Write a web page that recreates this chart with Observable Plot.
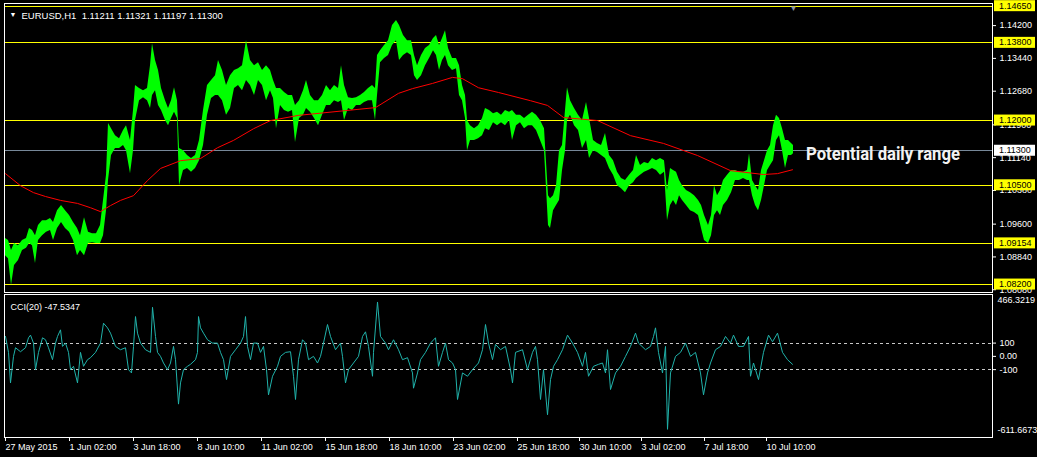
<!DOCTYPE html>
<html><head><meta charset="utf-8">
<script src="https://cdn.jsdelivr.net/npm/d3@7"></script>
<script src="https://cdn.jsdelivr.net/npm/@observablehq/plot@0.6"></script>
<style>
html,body{margin:0;padding:0;background:#000;}
#chart{position:relative;width:1037px;height:457px;background:#000;overflow:hidden;}
#chart svg{position:absolute;left:0;}
</style></head><body><div id="chart"></div>
<script>
// ---- texts ----
const symbolHeader = "EURUSD,H1  1.11211 1.11321 1.11197 1.11300";
const cciHeader = "CCI(20) -47.5347";
const annotationText = "Potential daily range";
const annotationAt = [801, 1.1123]; // bar index, price
// ---- levels & ticks ----
const levels = [1.14650, 1.13800, 1.12000, 1.10500, 1.09154, 1.08200];
const bidPrice = 1.11300;
const priceTicks = [1.14200, 1.13440, 1.12680, 1.11900, 1.11140, 1.10380, 1.09600, 1.08840, 1.08080];
const priceDomain = [1.08016, 1.14712];
const barDomain = [-1, 987];
const cciTicks = [100, 0, -100];
const cciMax = 466.3219, cciMin = -611.6673;
const cciLevels = [100, -100];
const timeTickIdx = [0, 64, 128, 192, 256, 320, 384, 448, 512, 574, 636, 699, 761];
const timeLabels = ["27 May 2015","1 Jun 02:00","3 Jun 18:00","8 Jun 10:00","11 Jun 02:00","15 Jun 18:00","18 Jun 10:00","23 Jun 02:00","25 Jun 18:00","30 Jun 10:00","3 Jul 02:00","7 Jul 18:00","10 Jul 10:00"];
const shiftMarkerIdx = 788;
// ---- price bars: [bar index, high, low] ----
const bars = [
[0,1.0927,1.0887],[3,1.0922,1.0880],[6,1.0899,1.0818],[9,1.0915,1.0864],[13,1.0910,1.0876],[17,1.0922,1.0899],
[21,1.0927,1.0904],[24,1.0950,1.0915],[27,1.0945,1.0910],[30,1.0933,1.0869],[33,1.0957,1.0922],[37,1.0968,1.0933],
[41,1.0968,1.0941],[45,1.0973,1.0945],[48,1.0964,1.0922],[52,1.0991,1.0950],[56,1.1003,1.0964],[60,1.0991,1.0950],
[64,1.0980,1.0941],[68,1.0964,1.0922],[72,1.0950,1.0887],[75,1.0933,1.0899],[79,1.0975,1.0887],[83,1.0941,1.0915],
[87,1.0938,1.0917],[91,1.0938,1.0915],[95,1.0957,1.0915],[98,1.1015,1.0933],[101,1.1073,1.0991],[103,1.1193,1.1061],
[106,1.1181,1.1119],[110,1.1165,1.1135],[114,1.1158,1.1135],[118,1.1177,1.1142],[121,1.1188,1.1130],[125,1.1154,1.1077],
[128,1.1223,1.1130],[130,1.1281,1.1200],[134,1.1274,1.1246],[138,1.1269,1.1253],[142,1.1274,1.1246],[145,1.1327,1.1228],
[147,1.1378,1.1258],[150,1.1339,1.1269],[153,1.1316,1.1235],[156,1.1274,1.1223],[160,1.1246,1.1200],[163,1.1228,1.1188],
[166,1.1246,1.1205],[169,1.1276,1.1219],[172,1.1246,1.1205],[174,1.1135,1.1049],[178,1.1130,1.1084],[182,1.1119,1.1089],
[186,1.1112,1.1080],[190,1.1119,1.1089],[194,1.1154,1.1107],[198,1.1223,1.1142],[202,1.1281,1.1212],[206,1.1293,1.1251],
[210,1.1304,1.1258],[213,1.1339,1.1258],[217,1.1316,1.1246],[221,1.1281,1.1212],[225,1.1304,1.1228],[229,1.1316,1.1274],
[233,1.1320,1.1281],[237,1.1327,1.1269],[241,1.1385,1.1293],[245,1.1339,1.1281],[249,1.1327,1.1258],[253,1.1334,1.1293],
[257,1.1316,1.1281],[261,1.1327,1.1246],[265,1.1316,1.1269],[268,1.1293,1.1251],[271,1.1274,1.1181],[275,1.1274,1.1235],
[279,1.1265,1.1223],[283,1.1258,1.1219],[287,1.1258,1.1223],[290,1.1235,1.1149],[294,1.1246,1.1205],[298,1.1269,1.1212],
[301,1.1293,1.1228],[305,1.1258,1.1219],[309,1.1246,1.1205],[313,1.1246,1.1188],[317,1.1258,1.1212],[321,1.1281,1.1235],
[325,1.1269,1.1235],[329,1.1281,1.1246],[333,1.1274,1.1242],[336,1.1327,1.1246],[339,1.1281,1.1200],[343,1.1253,1.1228],
[347,1.1251,1.1223],[351,1.1253,1.1235],[355,1.1258,1.1235],[359,1.1265,1.1242],[363,1.1274,1.1246],[367,1.1281,1.1246],
[370,1.1274,1.1200],[372,1.1351,1.1258],[375,1.1362,1.1334],[379,1.1374,1.1344],[383,1.1385,1.1351],[387,1.1420,1.1374],
[391,1.1432,1.1385],[394,1.1420,1.1339],[398,1.1397,1.1351],[402,1.1385,1.1357],[406,1.1385,1.1351],[409,1.1351,1.1304],
[412,1.1327,1.1293],[416,1.1351,1.1304],[420,1.1367,1.1327],[424,1.1374,1.1344],[428,1.1390,1.1362],[431,1.1397,1.1351],
[434,1.1374,1.1316],[437,1.1390,1.1339],[440,1.1408,1.1351],[443,1.1367,1.1327],[447,1.1344,1.1316],[451,1.1344,1.1320],
[454,1.1327,1.1258],[457,1.1281,1.1246],[460,1.1258,1.1205],[462,1.1200,1.1130],[465,1.1188,1.1154],[469,1.1181,1.1154],
[473,1.1188,1.1158],[477,1.1205,1.1165],[480,1.1228,1.1181],[484,1.1223,1.1177],[488,1.1216,1.1195],[492,1.1219,1.1188],
[496,1.1212,1.1195],[500,1.1223,1.1188],[504,1.1219,1.1200],[507,1.1223,1.1154],[511,1.1212,1.1188],[515,1.1212,1.1195],
[519,1.1205,1.1181],[523,1.1212,1.1188],[527,1.1219,1.1188],[531,1.1212,1.1177],[535,1.1200,1.1154],[539,1.1181,1.1130],
[543,1.1026,1.0957],[545,1.1019,1.0950],[548,1.1026,1.0991],[551,1.1049,1.1003],[554,1.1130,1.1015],[557,1.1142,1.1084],
[560,1.1223,1.1130],[562,1.1276,1.1200],[565,1.1246,1.1212],[569,1.1228,1.1188],[573,1.1212,1.1177],[577,1.1200,1.1135],
[581,1.1242,1.1154],[584,1.1205,1.1112],[588,1.1154,1.1130],[592,1.1147,1.1126],[596,1.1142,1.1119],[600,1.1170,1.1112],
[604,1.1119,1.1089],[608,1.1107,1.1073],[612,1.1080,1.1049],[616,1.1066,1.1042],[620,1.1061,1.1033],[624,1.1073,1.1049],
[628,1.1084,1.1056],[631,1.1119,1.1066],[635,1.1096,1.1073],[639,1.1103,1.1080],[643,1.1100,1.1084],[647,1.1112,1.1089],
[651,1.1107,1.1084],[655,1.1112,1.1073],[659,1.1107,1.1080],[662,1.1038,1.0968],[665,1.1089,1.1003],[668,1.1084,1.1015],
[671,1.1080,1.1003],[674,1.1061,1.1026],[677,1.1049,1.1015],[681,1.1038,1.1003],[685,1.1033,1.0991],[689,1.1026,1.0987],
[693,1.1015,1.0980],[696,1.1003,1.0950],[699,1.0980,1.0922],[703,1.0957,1.0915],[706,1.0980,1.0933],[709,1.1049,1.0980],
[712,1.1026,1.0991],[715,1.1038,1.0980],[718,1.1061,1.1003],[722,1.1073,1.1015],[726,1.1084,1.1033],[730,1.1084,1.1061],
[734,1.1080,1.1061],[738,1.1080,1.1066],[742,1.1084,1.1061],[744,1.1123,1.1061],[747,1.1061,1.1026],[750,1.1049,1.1003],
[753,1.1038,1.0991],[756,1.1084,1.1015],[759,1.1107,1.1049],[762,1.1130,1.1084],[765,1.1142,1.1096],[768,1.1188,1.1107],
[771,1.1212,1.1154],[774,1.1205,1.1165],[777,1.1181,1.1130],[780,1.1154,1.1089],[783,1.1154,1.1119],[786,1.1147,1.1119],
[788,1.1142,1.1123]
];
// ---- moving average: [bar index, value] ----
const ma = [
[0,1.1077],[15,1.1049],[28,1.1033],[40,1.1024],[55,1.1015],[72,1.1008],[85,1.0998],[95,1.0989],[105,1.1003],[115,1.1015],
[128,1.1026],[142,1.1061],[155,1.1089],[175,1.1107],[195,1.1112],[212,1.1137],[228,1.1154],[248,1.1181],[265,1.1200],
[293,1.1212],[340,1.1223],[370,1.1230],[393,1.1263],[407,1.1274],[427,1.1286],[447,1.1300],[457,1.1297],[473,1.1276],
[493,1.1265],[525,1.1246],[542,1.1235],[558,1.1207],[592,1.1200],[625,1.1165],[658,1.1147],[692,1.1119],[725,1.1084],
[758,1.1075],[772,1.1077],[787,1.1086]
];
// ---- CCI(20): [bar index, value] ----
const cci = [
[0,150],[3,30],[5,-200],[8,0],[10,65],[15,35],[20,65],[23,140],[25,160],[28,100],[30,-100],[33,30],[37,140],[40,125],
[43,65],[47,-25],[50,100],[52,150],[55,200],[57,75],[60,100],[63,30],[65,-100],[68,-75],[72,-200],[75,30],[78,-75],
[82,-25],[85,-10],[90,30],[95,100],[98,250],[102,215],[105,175],[110,75],[115,50],[120,65],[123,-100],[126,-125],[128,75],
[130,300],[132,175],[135,100],[140,50],[145,30],[147,370],[150,150],[152,30],[155,0],[158,-50],[162,-100],[165,-50],
[168,75],[170,-25],[173,-360],[175,-200],[178,-100],[182,-75],[185,-60],[190,-25],[192,30],[193,300],[195,215],[198,175],
[202,125],[207,100],[212,100],[215,30],[218,-25],[221,-175],[225,0],[230,50],[235,100],[238,150],[240,300],[242,75],
[245,-25],[248,100],[252,100],[255,30],[258,75],[261,-100],[263,-290],[267,-150],[272,-75],[275,0],[280,30],[285,35],
[288,-150],[290,-325],[293,-25],[297,125],[300,100],[303,-25],[308,0],[312,-50],[315,0],[318,100],[322,240],[325,150],
[330,50],[335,100],[337,0],[340,-200],[343,-100],[348,-50],[353,0],[357,150],[360,185],[363,75],[367,-150],[368,30],
[372,410],[375,150],[380,100],[383,50],[388,125],[393,50],[397,-25],[402,-10],[407,-125],[408,-240],[412,-125],[415,-25],
[420,30],[425,100],[430,140],[433,-75],[437,30],[440,100],[443,-25],[447,-50],[450,-100],[452,-325],[457,-125],[462,-150],
[467,-100],[473,-50],[477,50],[480,240],[483,100],[487,-25],[490,90],[495,50],[500,75],[505,-100],[507,-200],[510,30],
[517,50],[522,-100],[527,30],[530,75],[532,-25],[535,-325],[538,-100],[542,-440],[545,-175],[548,-75],[552,-25],[557,50],
[562,160],[567,100],[572,30],[577,-75],[580,30],[583,-150],[588,-75],[593,-60],[597,-50],[600,-125],[602,50],[605,-250],
[610,-125],[615,-75],[620,0],[625,75],[630,175],[633,100],[640,50],[645,75],[648,150],[650,215],[653,30],[657,-125],
[660,75],[662,-550],[665,-125],[670,0],[675,30],[680,100],[685,0],[690,30],[695,-125],[698,-290],[702,-125],[705,-50],
[710,50],[715,75],[720,150],[725,100],[728,160],[733,75],[738,75],[743,150],[745,-150],[748,-50],[753,-175],[758,30],
[763,160],[767,110],[772,175],[777,30],[782,-25],[787,-60]
];

const font = "'Liberation Sans', Arial, sans-serif";
const baseStyle = {background: "#000", color: "#fff", fontFamily: font, fontSize: "9px", overflow: "visible"};
const labelMap = new Map(timeTickIdx.map((d, i) => [d, timeLabels[i]]));

const main = Plot.plot({
  width: 1037, height: 293,
  marginLeft: 4, marginRight: 45, marginTop: 3, marginBottom: 1,
  style: baseStyle,
  x: {domain: barDomain, axis: null},
  y: {domain: priceDomain, axis: null},
  marks: [
    Plot.ruleY(levels, {stroke: "#ffff00", strokeWidth: 1}),
    Plot.ruleY([bidPrice], {stroke: "#778899", strokeWidth: 1}),
    Plot.areaY(bars, {x: d => d[0], y1: d => d[2], y2: d => d[1], fill: "#00ff00", curve: "linear"}),
    Plot.line(ma, {x: d => d[0], y: d => d[1], stroke: "#ff0000", strokeWidth: 1}),
    Plot.frame({stroke: "#ffffff"}),
    Plot.axisY(priceTicks, {anchor: "right", tickSize: 3, tickPadding: 4, tickFormat: d => d.toFixed(5),
      fill: "#ffffff", stroke: "#ffffff", fontSize: 9, label: null}),
    Plot.text([symbolHeader], {frameAnchor: "top-left", dx: 17, dy: 9, textAnchor: "start", fill: "#ffffff", fontSize: 9.5}),
    Plot.text(["\u25BC"], {frameAnchor: "top-left", dx: 5, dy: 9, textAnchor: "start", fill: "#ffffff", fontSize: 7}),
    Plot.text(["\u25BC"], {x: () => shiftMarkerIdx, frameAnchor: "top", dy: 2, fill: "#8c93a8", fontSize: 8})
  ]
});

const cciPlot = Plot.plot({
  width: 1037, height: 164,
  marginLeft: 4, marginRight: 45, marginTop: 1, marginBottom: 20,
  style: baseStyle,
  x: {domain: barDomain, axis: null},
  y: {domain: [cciMin, cciMax], axis: null},
  marks: [
    Plot.ruleY(cciLevels, {stroke: "#c8c8c8", strokeDasharray: "3,3"}),
    Plot.line(cci, {x: d => d[0], y: d => d[1], stroke: "#20b2aa", strokeWidth: 1}),
    Plot.frame({stroke: "#ffffff"}),
    Plot.axisY(cciTicks, {anchor: "right", tickSize: 3, tickPadding: 4,
      tickFormat: d => d === 0 ? "0.00" : String(d), fill: "#ffffff", stroke: "#ffffff", fontSize: 9, label: null}),
    Plot.text([cciMax], {y: d => d, text: d => d.toFixed(4), frameAnchor: "right", dx: 5, dy: 6, textAnchor: "start", fill: "#ffffff", fontSize: 9}),
    Plot.text([cciMin], {y: d => d, text: d => d.toFixed(4), frameAnchor: "right", dx: 5, dy: -7, textAnchor: "start", fill: "#ffffff", fontSize: 9}),
    Plot.axisX(timeTickIdx, {anchor: "bottom", tickSize: 4, tickPadding: 2, textAnchor: "start",
      tickFormat: d => labelMap.get(d), fill: "#ffffff", stroke: "#ffffff", fontSize: 9, label: null}),
    Plot.text([cciHeader], {frameAnchor: "top-left", dx: 6, dy: 9, textAnchor: "start", fill: "#ffffff", fontSize: 9})
  ]
});

// price-line label boxes and annotation, positioned through Plot's scales
(function decorate() {
  const ys = main.scale("y"), xs = main.scale("x");
  const svg = d3.select(main);
  const boxX = xs.range[1] + 2;
  const g = svg.append("g").attr("text-anchor", "start");
  function box(v, fill) {
    const y = ys.apply(v);
    g.append("rect").attr("x", boxX).attr("y", y - 5.5).attr("width", 1037 - boxX - 2).attr("height", 11).attr("fill", fill);
    g.append("text").attr("x", boxX + 5).attr("y", y).attr("dy", "0.34em").attr("fill", "#000")
      .attr("text-anchor", "start").attr("font-size", 9).attr("font-family", font).text(v.toFixed(5));
  }
  levels.forEach(v => box(v, "#ffff00"));
  box(bidPrice, "#ffffff");
  svg.append("text").attr("x", xs.apply(annotationAt[0])).attr("y", ys.apply(annotationAt[1])).attr("dy", "0.35em")
    .attr("text-anchor", "start")
    .attr("fill", "#f2f2f2").attr("font-family", "Roboto, 'Liberation Sans', sans-serif").attr("font-weight", "bold")
    .attr("font-size", 18).attr("textLength", 154).attr("lengthAdjust", "spacingAndGlyphs").text(annotationText);
  svg.selectAll("line").attr("shape-rendering", "crispEdges");
  d3.select(cciPlot).selectAll("line").attr("shape-rendering", "crispEdges");
})();

const host = document.getElementById("chart");
main.style.top = "0px";
cciPlot.style.top = "293px";
host.appendChild(main);
host.appendChild(cciPlot);
</script>
</body></html>
